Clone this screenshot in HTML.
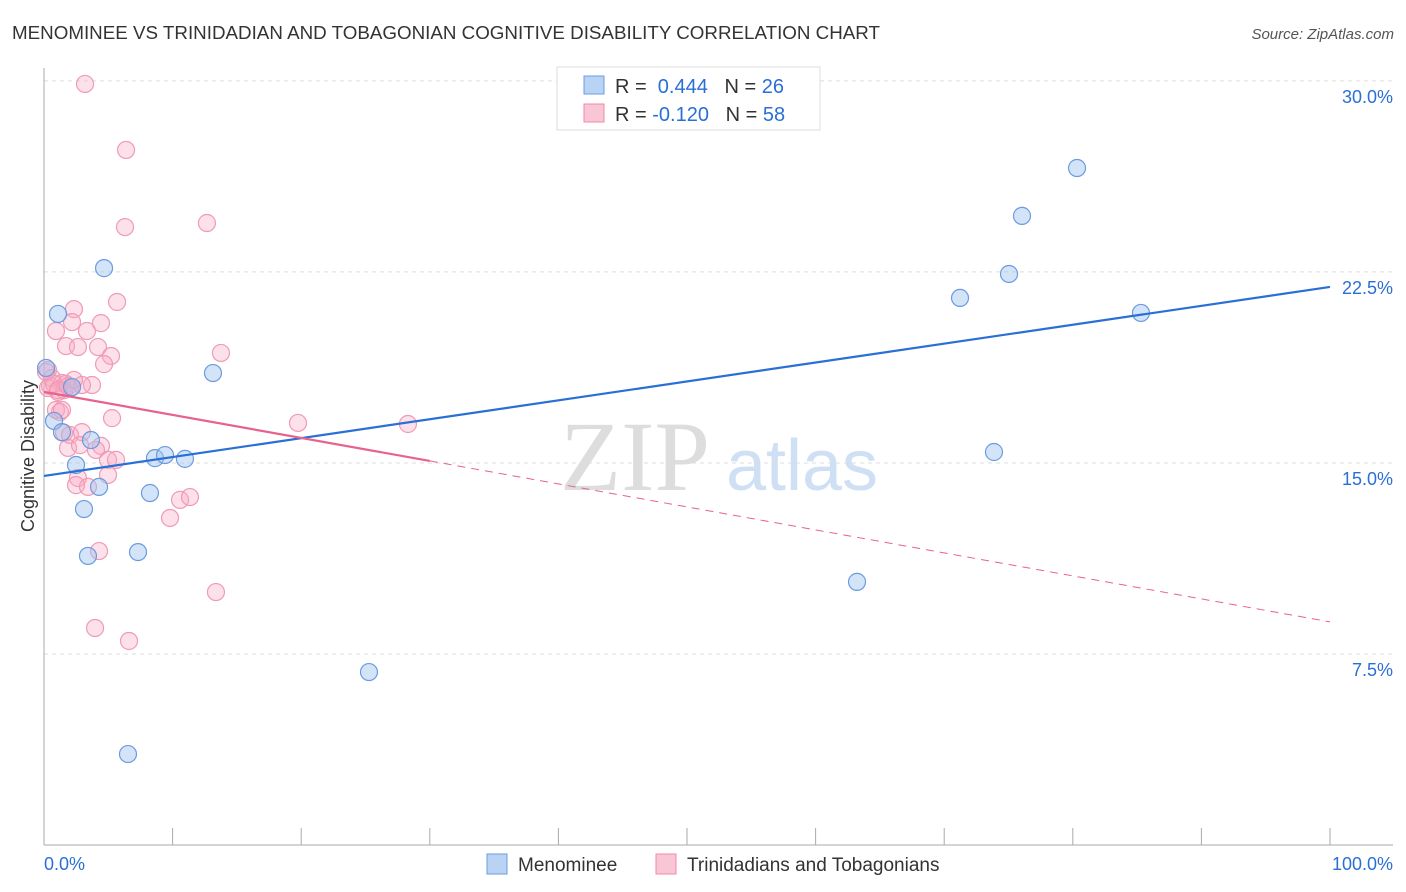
<!DOCTYPE html>
<html><head><meta charset="utf-8"><style>
body{margin:0;background:#fff;font-family:"Liberation Sans",sans-serif}
svg{display:block}
</style></head><body>
<svg id="c" width="1406" height="892" xmlns="http://www.w3.org/2000/svg">
<text x="12" y="39" font-size="18" fill="#333" textLength="868" lengthAdjust="spacingAndGlyphs">MENOMINEE VS TRINIDADIAN AND TOBAGONIAN COGNITIVE DISABILITY CORRELATION CHART</text>
<text x="1394" y="39" font-size="15" fill="#555" font-style="italic" text-anchor="end">Source: ZipAtlas.com</text>
<text transform="translate(34,456) rotate(-90)" font-size="18" fill="#333" text-anchor="middle">Cognitive Disability</text>
<g>
<text x="635" y="490" font-size="100" font-family="Liberation Serif,serif" fill="#ddd" text-anchor="middle">ZIP</text>
<text x="802" y="490" font-size="72" fill="#cfe0f5" text-anchor="middle">atlas</text>
</g>
<g id="grid"></g><g id="axes"></g><g id="pts"></g><g id="lines"></g>
<g>
<rect x="557" y="67" width="263" height="63" fill="#fff" stroke="#ddd"/>
<rect x="584" y="76" width="20" height="18" fill="#b9d3f5" stroke="#6a9be0"/>
<text x="615" y="93" font-size="20" fill="#333">R = <tspan fill="#2a6fd6">&#160;0.444</tspan>&#160;&#160;&#160;N = <tspan fill="#2a6fd6">26</tspan></text>
<rect x="584" y="104" width="20" height="18" fill="#f9c6d5" stroke="#f08aaa"/>
<text x="615" y="121" font-size="20" fill="#333">R = <tspan fill="#2a6fd6">-0.120</tspan>&#160;&#160;&#160;N = <tspan fill="#2a6fd6">58</tspan></text>
</g>
<g>
<rect x="487" y="854" width="20" height="20" fill="#b9d3f5" stroke="#6a9be0"/>
<text x="518" y="871" font-size="19" fill="#333">Menominee</text>
<rect x="656" y="854" width="20" height="20" fill="#f9c6d5" stroke="#f08aaa"/>
<text x="687" y="871" font-size="19" fill="#333">Trinidadians and Tobagonians</text>
</g>
</svg>
<script>
const yTicks=[7.5,15,22.5,30];
const yTickLabels=["7.5%","15.0%","22.5%","30.0%"];
const xTickLabels=["0.0%","100.0%"];
const blueX=[4.67,1.09,0.16,13.14,2.18,0.78,3.65,1.40,8.63,9.41,10.96,2.49,4.28,8.24,3.11,3.42,7.31,25.27,6.53,63.22,71.23,76.05,80.33,75.04,85.30,73.87];
const blueY=[22.65,20.85,18.73,18.53,17.98,16.65,15.90,16.21,15.19,15.31,15.16,14.92,14.06,13.82,13.19,11.35,11.50,6.79,3.57,10.33,21.48,24.70,26.58,22.42,20.89,15.43];
const pinkX=[3.19,6.38,6.30,12.67,5.68,2.33,0.93,2.18,4.43,3.34,1.71,2.64,4.20,5.21,4.67,13.76,0.31,0.62,1.40,3.73,2.02,2.95,0.47,1.09,1.56,0.93,1.24,5.29,19.75,28.30,1.56,2.02,2.95,4.43,1.87,4.04,2.80,4.98,5.60,4.98,2.64,2.49,3.42,9.80,10.58,11.35,4.28,13.37,3.97,6.61,0.31,0.78,1.71,0.16,1.09,1.40,1.87,2.33];
const pinkY=[29.88,27.29,24.26,24.42,21.32,21.04,20.18,20.53,20.49,20.18,19.59,19.55,19.55,19.20,18.88,19.32,18.65,18.33,18.14,18.06,17.94,18.06,18.02,17.79,17.86,17.08,17.00,16.76,16.57,16.53,16.18,16.10,16.21,15.67,15.59,15.51,15.70,15.12,15.12,14.53,14.41,14.13,14.06,12.84,13.55,13.66,11.54,9.93,8.52,8.01,17.94,18.10,18.10,18.57,17.86,17.08,18.02,18.26];
const blueTrend=[[0,14.49],[100,21.91]];
const pinkTrendSolid=[[0,17.79],[30,15.08]];
const pinkTrendDash=[[30,15.08],[100,8.76]];
const X=v=>44+v*12.86, Y=v=>845-v*25.47;
const NS="http://www.w3.org/2000/svg";
function mk(p,t,a){const e=document.createElementNS(NS,t);for(const k in a)e.setAttribute(k,a[k]);document.getElementById(p).appendChild(e);return e;}
yTicks.forEach((t,i)=>{
 const g=mk('grid','line',{x1:44,x2:1393,y1:Y(t),y2:Y(t),stroke:'#ddd','stroke-dasharray':'4,4'});
 
 
 const l=mk('axes','text',{x:1393,y:Y(t)+22,'font-size':18,fill:'#2a6fd6','text-anchor':'end'});
 l.textContent=yTickLabels[i];
 
 
});
let ax=mk('axes','line',{x1:44,x2:44,y1:68,y2:845,stroke:'#aaa'});


ax=mk('axes','line',{x1:44,x2:1393,y1:845,y2:845,stroke:'#aaa'});


for(let k=0;k<=10;k++){
 const t=mk('axes','line',{x1:X(k*10),x2:X(k*10),y1:828,y2:845,stroke:'#aaa'});
 
 
}
[[0,44,'start'],[1,1393,'end']].forEach(([i,x,a])=>{
 const l=mk('axes','text',{x:x,y:870,'font-size':18,fill:'#2a6fd6','text-anchor':a});
 l.textContent=xTickLabels[i];
 
 
});
pinkX.forEach((v,i)=>{
 const c=mk('pts','circle',{cx:X(v),cy:Y(pinkY[i]),r:8.5,fill:'rgba(248,170,195,0.35)',stroke:'#f09ab5','stroke-width':1.2});
 
 
});
blueX.forEach((v,i)=>{
 const c=mk('pts','circle',{cx:X(v),cy:Y(blueY[i]),r:8.5,fill:'rgba(160,195,240,0.45)',stroke:'#6a9be0','stroke-width':1.2});
 
 
});
let ln=mk('lines','line',{x1:X(blueTrend[0][0]),y1:Y(blueTrend[0][1]),x2:X(blueTrend[1][0]),y2:Y(blueTrend[1][1]),stroke:'#2a6fd6','stroke-width':2.2});


ln=mk('lines','line',{x1:X(pinkTrendSolid[0][0]),y1:Y(pinkTrendSolid[0][1]),x2:X(pinkTrendSolid[1][0]),y2:Y(pinkTrendSolid[1][1]),stroke:'#e8628e','stroke-width':2.2});


ln=mk('lines','line',{x1:X(pinkTrendDash[0][0]),y1:Y(pinkTrendDash[0][1]),x2:X(pinkTrendDash[1][0]),y2:Y(pinkTrendDash[1][1]),stroke:'#e8628e','stroke-width':1,'stroke-dasharray':'8,6'});


</script>
</body></html>
